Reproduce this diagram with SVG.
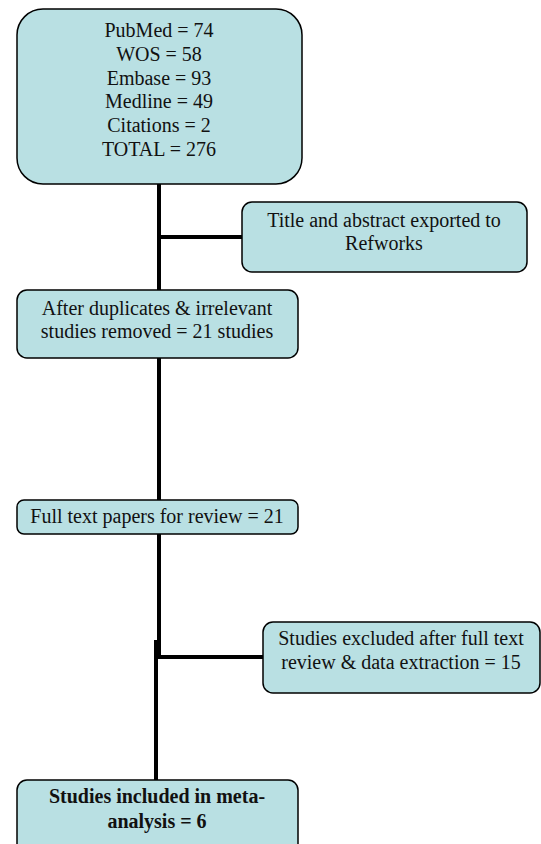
<svg xmlns="http://www.w3.org/2000/svg" width="541" height="844" viewBox="0 0 541 844">
<style>
.box{fill:#b9e0e3;stroke:#000;stroke-width:1.5}
text{font-family:'Liberation Serif','DejaVu Serif',serif;font-size:20px;fill:#111;text-anchor:middle}
.b{font-weight:bold}
.c{stroke:#000;stroke-width:4;fill:none}
</style>
<rect width="541" height="844" fill="#fff"/>
<g id="connectors">
<line class="c" x1="159" y1="184" x2="159" y2="290"/>
<line class="c" x1="157" y1="237" x2="242" y2="237"/>
<line class="c" x1="159" y1="358" x2="159" y2="500"/>
<line class="c" x1="159" y1="534" x2="159" y2="658"/>
<line class="c" x1="156" y1="640" x2="156" y2="780"/>
<line class="c" x1="156" y1="657" x2="263" y2="657"/>
</g>
<g id="sources">
<rect class="box" x="17" y="9" width="285" height="175" rx="26"/>
<text x="159" y="37">PubMed = 74</text>
<text x="159" y="61">WOS = 58</text>
<text x="159" y="85">Embase = 93</text>
<text x="159" y="108">Medline = 49</text>
<text x="159" y="132">Citations = 2</text>
<text x="159" y="156">TOTAL = 276</text>
</g>
<g id="exported">
<rect class="box" x="242" y="202" width="285" height="70" rx="10"/>
<text x="384" y="227">Title and abstract exported to</text>
<text x="384" y="250">Refworks</text>
</g>
<g id="duplicates">
<rect class="box" x="17" y="290" width="281" height="68" rx="10"/>
<text x="157" y="315">After duplicates &amp; irrelevant</text>
<text x="157" y="338">studies removed = 21 studies</text>
</g>
<g id="fulltext">
<rect class="box" x="17" y="500" width="281" height="34" rx="7"/>
<text x="157" y="523">Full text papers for review = 21</text>
</g>
<g id="excluded">
<rect class="box" x="263" y="622" width="277" height="71" rx="10"/>
<text x="401" y="645">Studies excluded after full text</text>
<text x="401" y="669">review &amp; data extraction  = 15</text>
</g>
<g id="included">
<rect class="box" x="17" y="780" width="281" height="80" rx="10"/>
<text class="b" x="157" y="803">Studies included in meta-</text>
<text class="b" x="157" y="828">analysis = 6</text>
</g>
</svg>
